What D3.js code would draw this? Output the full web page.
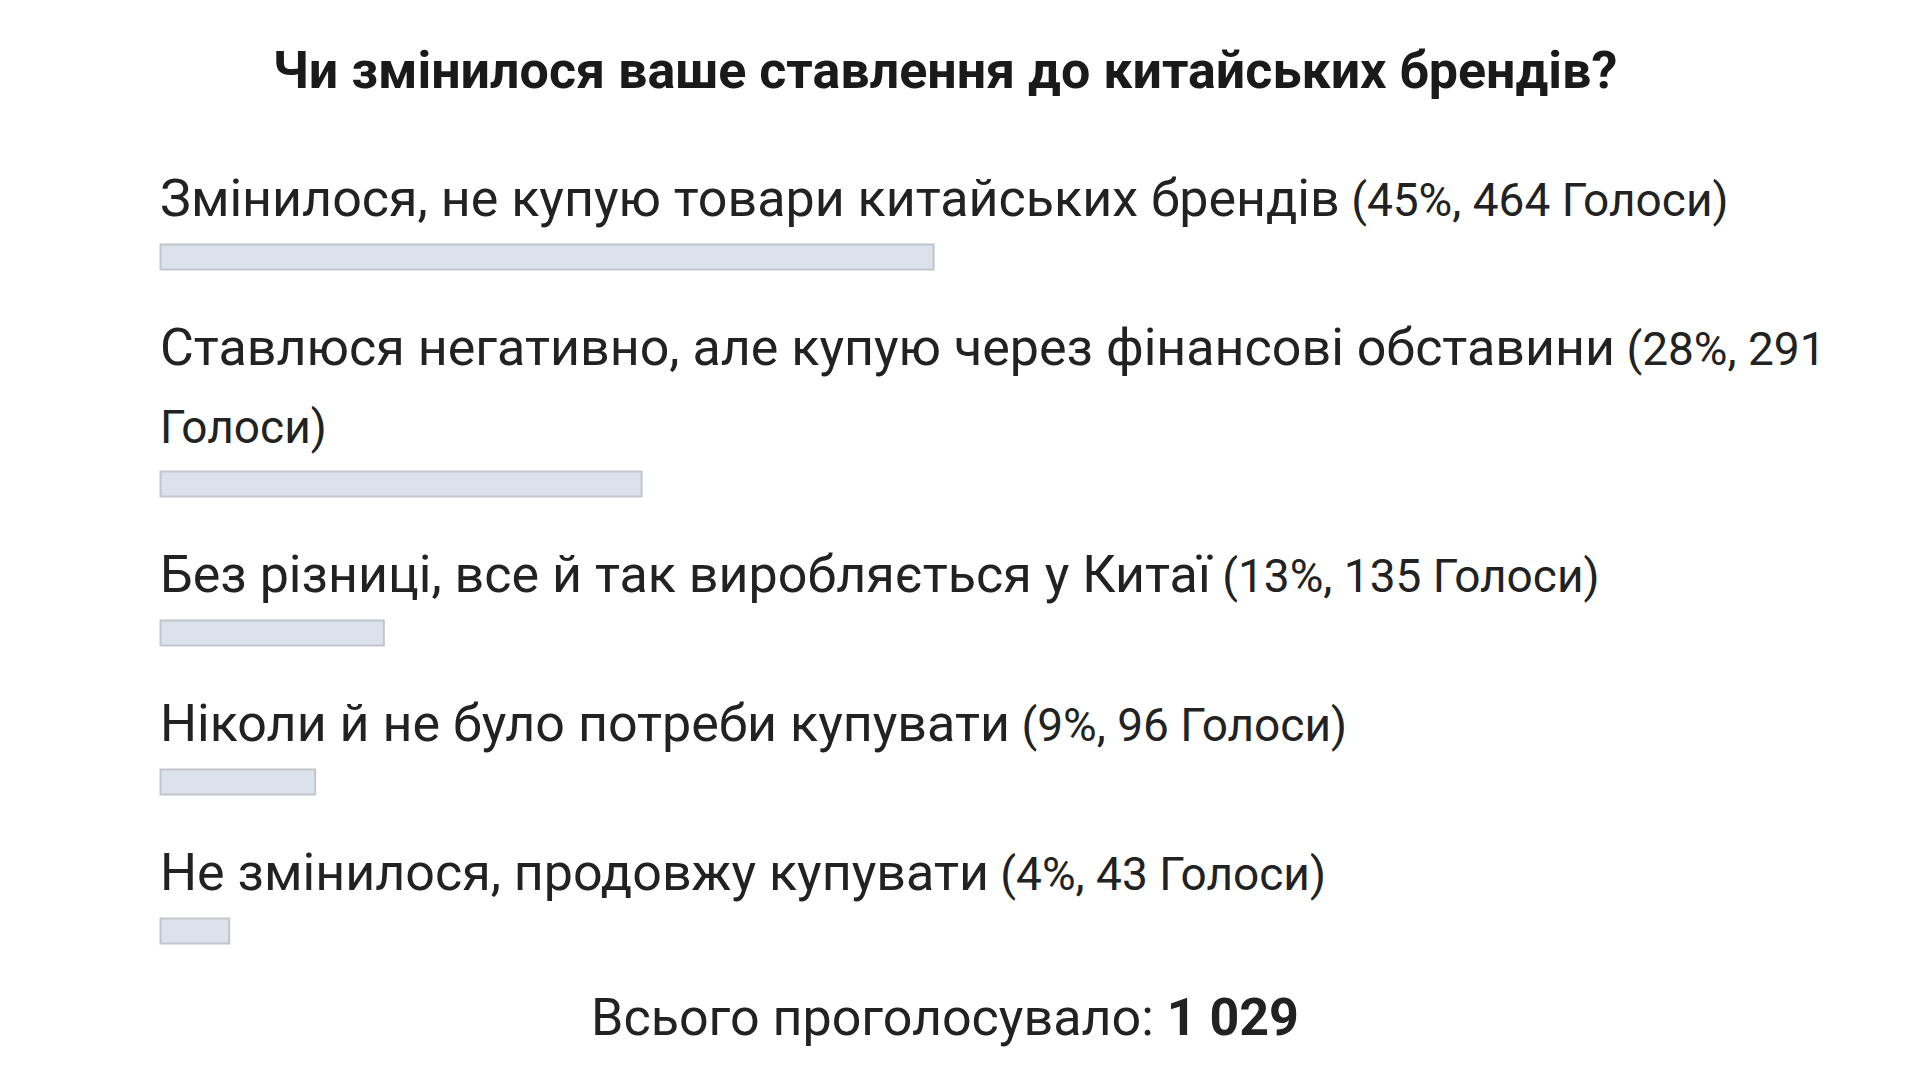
<!DOCTYPE html>
<html>
<head>
<meta charset="utf-8">
<script src="https://cdn.jsdelivr.net/npm/d3@7"></script>
<style>
  html, body { margin: 0; padding: 0; background: #fff; }
  svg { display: block; font-family: Roboto, "Noto Sans", sans-serif; }
</style>
</head>
<body>
<div id="poll"></div>
<script>
// poll data
var pollTitle = "Чи змінилося ваше ставлення до китайських брендів?";
var answers = [
    "Змінилося, не купую товари китайських брендів",
    "Ставлюся негативно, але купую через фінансові обставини",
    "Без різниці, все й так виробляється у Китаї",
    "Ніколи й не було потреби купувати",
    "Не змінилося, продовжу купувати"
];
var percents = [45, 28, 13, 9, 4];
var votes = [464, 291, 135, 96, 43];
var totalLabel = "Всього проголосувало: ";
var totalVotes = "1 029";

var width = 1920, height = 1082;
var leftPad = 160;
var barWidthMax = 1718;
var lineHeight = 78;
var itemGap = 149;
var mainSize = 52, smallSize = 46;

var svg = d3.select("#poll").append("svg")
    .attr("width", width)
    .attr("height", height);

var x = d3.scaleLinear().domain([0, 100]).range([0, barWidthMax]);

// title
svg.append("text")
    .attr("x", 945)
    .attr("y", 88)
    .attr("text-anchor", "middle")
    .style("font-size", "52px")
    .style("font-weight", "bold")
    .attr("fill", "#1a1a1a")
    .text(pollTitle);

// measure helper
var measure = svg.append("text").attr("opacity", 0);
function textWidth(str, size) {
    measure.style("font-size", size + "px").text(str);
    return measure.node().getComputedTextLength();
}

var y = 216;
var barTops = [];
answers.forEach(function(label, i) {
    // words of the answer, then the smaller "(xx%, n Голоси)" words
    var words = label.split(" ").map(function(w){ return {w: w, s: mainSize}; });
    ("(" + percents[i] + "%, " + votes[i] + " Голоси)").split(" ").forEach(function(w){
        words.push({w: w, s: smallSize});
    });
    var lines = [[]], cur = 0;
    words.forEach(function(wd) {
        var ww = textWidth(wd.w, wd.s);
        var sp = lines[lines.length-1].length ? textWidth(" ", wd.s) : 0;
        if (cur + sp + ww > barWidthMax && lines[lines.length-1].length) {
            lines.push([]);
            cur = 0;
            sp = 0;
        }
        lines[lines.length-1].push(wd);
        cur += sp + ww;
    });
    lines.forEach(function(line, li) {
        var t = svg.append("text")
            .attr("class", "answerText")
            .attr("x", leftPad)
            .attr("y", y + li * lineHeight)
            .attr("fill", "#222");
        line.forEach(function(wd, k) {
            t.append("tspan")
                .style("font-size", wd.s + "px")
                .text((k > 0 ? " " : "") + wd.w);
        });
    });
    y += (lines.length - 1) * lineHeight;
    barTops.push(y + 28);
    y += itemGap;
});

svg.selectAll(".bar")
    .data(percents)
    .enter()
    .append("rect")
    .attr("class", "bar")
    .attr("x", leftPad + 0.5)
    .attr("y", function(d, i){ return barTops[i] + 0.5; })
    .attr("width", function(d){ return x(d); })
    .attr("height", 25)
    .attr("fill", "#dbe2eb")
    .attr("stroke", "#c2c6cc")
    .attr("stroke-width", 2);

measure.remove();

// total
var total = svg.append("text")
    .attr("x", 945)
    .attr("y", 1035)
    .attr("text-anchor", "middle")
    .attr("fill", "#222")
    .style("font-size", "52px");
total.append("tspan").text(totalLabel);
total.append("tspan").style("font-weight", "bold").text(totalVotes);
</script>
</body>
</html>
